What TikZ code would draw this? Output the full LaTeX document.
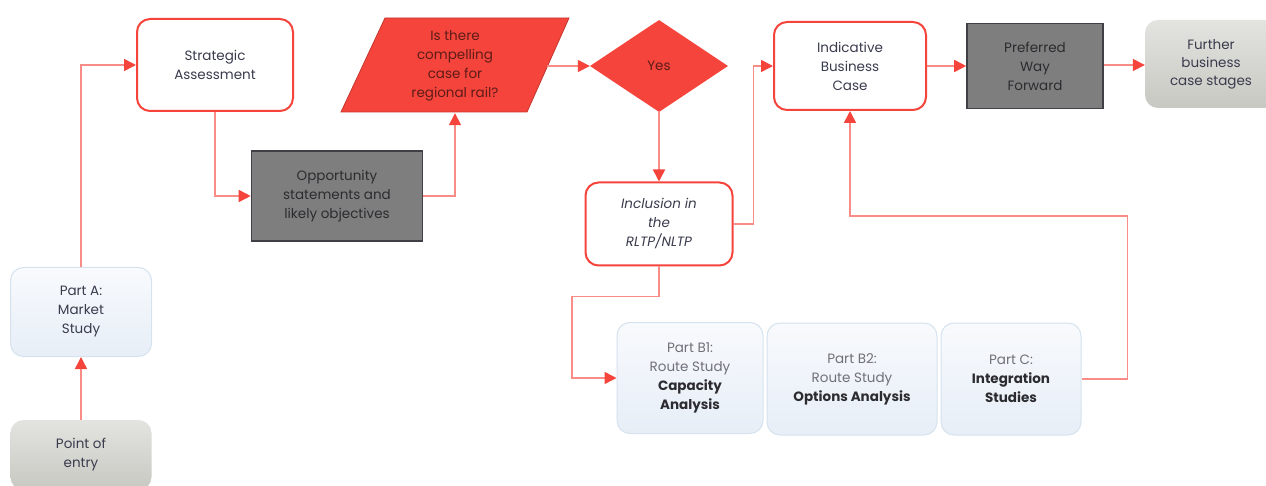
\documentclass[tikz,border=0pt]{standalone}
\usepackage{fontspec}
\setmainfont{Poppins}
\usetikzlibrary{shapes.geometric,arrows.meta}
\definecolor{rred}{HTML}{F5443B}
\definecolor{lred}{HTML}{F98C86}
\definecolor{txt}{HTML}{3A3B4D}
\definecolor{redtxt}{HTML}{5E1C18}
\definecolor{darkfill}{HTML}{7E7E7E}
\definecolor{darkline}{HTML}{3E4045}
\definecolor{darktxt}{HTML}{2C2C30}
\definecolor{bluetop}{HTML}{F8FAFD}
\definecolor{bluebot}{HTML}{E7EEF7}
\definecolor{blueline}{HTML}{D6E2EE}
\definecolor{greytop}{HTML}{E3E3DF}
\definecolor{greybot}{HTML}{C8C8C3}
\definecolor{softtxt}{HTML}{707078}
\begin{document}
\begin{tikzpicture}[x=1pt,y=-1pt,
  font=\fontsize{13.5}{19}\selectfont,
  box/.style={inner sep=0pt, align=center},
  redbox/.style={box, draw=rred, line width=2pt, rounded corners=13pt, fill=white, text=txt},
  darkbox/.style={box, draw=darkline, fill=darkfill, line width=1.6pt, text=darktxt},
  bluebox/.style={box, draw=blueline, line width=1pt, top color=bluetop, bottom color=bluebot, rounded corners=13pt, text=txt},
  greybox/.style={box, top color=greytop, bottom color=greybot, rounded corners=13pt, text=txt},
  conn/.style={draw=lred, line width=1.6pt, -{Triangle[length=12pt,width=12pt,color=rred]}},
]
\useasboundingbox (0,0) rectangle (1266,486);
\fill[white] (0,0) rectangle (1266,486);

% nodes
\node[redbox, minimum width=156, minimum height=92] (sa) at (215,65) {Strategic\\Assessment};
\node[darkbox, minimum width=171, minimum height=90] (op) at (337,196) {Opportunity\\statements and\\likely objectives};
\fill[rred] (341,112) -- (527,112) -- (569,18) -- (385,18) -- cycle;
\draw[rred!80!black, line width=0.8pt] (341,112) -- (527,112) -- (569,18) -- (385,18) -- cycle;
\node[box, minimum width=228, minimum height=94, text=redtxt] (q) at (455,66) {Is there\\compelling\\case for\\regional rail?};
\coordinate (qr) at (547,66);
\node[diamond, fill=rred, inner sep=0pt, minimum width=138, minimum height=92, text=redtxt] (yes) at (659,66) {Yes};
\node[redbox, minimum width=147, minimum height=83] (inc) at (659,224) {\itshape Inclusion in\\\itshape the\\\itshape RLTP/NLTP};
\node[redbox, minimum width=152, minimum height=88] (ibc) at (850,66) {Indicative\\Business\\Case};
\node[darkbox, minimum width=136, minimum height=85] (pwf) at (1035,66) {Preferred\\Way\\Forward};
\node[greybox, minimum width=132, minimum height=88, font=\fontsize{13.5}{18}\selectfont] (fur) at (1211,64) {Further\\business\\case stages};
\node[bluebox, minimum width=141, minimum height=89] (pa) at (81,312) {Part A:\\Market\\Study};
\node[greybox, minimum width=141, minimum height=70] (pe) at (81,455) {Point of\\entry};
\node[bluebox, minimum width=146, minimum height=111] (b1) at (690,378) {{\color{softtxt}Part B1:}\\{\color{softtxt}Route Study}\\{\bfseries\color{darktxt}Capacity}\\{\bfseries\color{darktxt}Analysis}};
\node[bluebox, minimum width=170, minimum height=112] (b2) at (852,379) {{\color{softtxt}Part B2:}\\{\color{softtxt}Route Study}\\{\bfseries\color{darktxt}Options Analysis}};
\node[bluebox, minimum width=140, minimum height=112] (pc) at (1011,379) {{\color{softtxt}Part C:}\\{\bfseries\color{darktxt}Integration}\\{\bfseries\color{darktxt}Studies}};

% connectors
\draw[conn] (pe.north) -- (pa.south);
\draw[conn] (pa.north) |- (sa.west);
\draw[conn] (sa.south) |- (op.west);
\draw[conn] (op.east) -| (q.south);
\draw[conn] (qr) -- (yes.west);
\draw[conn] (yes.south) -- (inc.north);
\draw[conn] (inc.east) -- ++(20,0) |- (ibc.west);
\draw[conn] (ibc.east) -- (pwf.west);
\draw[conn] ([yshift=1pt]pwf.east) -- ([yshift=1pt]pwf.east -| fur.west);
\draw[conn] (inc.south) -- ++(0,30) -- ++(-87,0) |- (b1.west);
\draw[conn] (pc.east) -- ++(46,0) -- ++(0,-163) -| (ibc.south);
\end{tikzpicture}
\end{document}
